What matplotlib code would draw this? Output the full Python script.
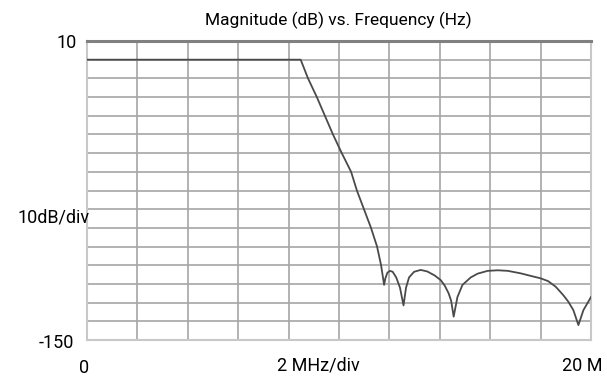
import matplotlib

matplotlib.use("Agg")
import matplotlib.pyplot as plt
import numpy as np

plt.rcParams["font.family"] = ["Roboto", "DejaVu Sans"]

# filter response
freq_mhz = [0.0, 8.48, 8.77, 9.12, 9.44, 9.76, 10.11, 10.48, 10.71, 10.99,
            11.27, 11.51, 11.67, 11.79, 11.84, 11.92, 12.02, 12.13, 12.27,
            12.42, 12.56, 12.66, 12.78, 12.98, 13.24, 13.5, 13.8, 14.04,
            14.2, 14.35, 14.45, 14.55, 14.7, 14.9, 15.23, 15.5, 15.9, 16.3,
            16.7, 17.2, 17.7, 18.0, 18.3, 18.6, 18.9, 19.1, 19.3, 19.5,
            19.7, 20.0]
mag_db = [0.0, 0.0, -10, -20, -30, -40, -50, -60, -70, -80,
          -90, -100, -110, -120.5, -117, -114, -113, -113.5, -116.5,
          -122, -131.5, -122, -116.5, -113.5, -112.5, -113.3, -115.5, -118,
          -121, -125, -129, -137.5, -127, -120.5, -116.5, -114.5, -113, -112.7,
          -113, -114.3, -116, -117, -118.5, -121.5, -126, -129.5, -134, -142,
          -134, -127]

x_ticks = np.arange(0, 21, 2)
y_ticks = np.arange(-150, 11, 10)

fig = plt.figure(figsize=(6.07, 3.83), dpi=100)
ax = fig.add_axes([87 / 607, 1 - 340 / 383, (591 - 87) / 607, (340 - 41) / 383])

ax.plot(freq_mhz, mag_db, color="#4a4a4a", lw=1.3, zorder=3)

ax.set_xlim(0, 20)
ax.set_ylim(-150, 10)
ax.set_xticks(x_ticks)
ax.set_yticks(y_ticks)
ax.tick_params(length=0, labelbottom=False, labelleft=False)
ax.grid(True, color="#a6a6a6", lw=1.2)
for side in ("left", "right", "bottom"):
    ax.spines[side].set_color("#c8c8c8")
    ax.spines[side].set_linewidth(1.5)
ax.spines["top"].set_color("#808080")
ax.spines["top"].set_linewidth(2.2)

fs = 13
fig.text(338 / 607, 1 - 20 / 383, "Magnitude (dB) vs. Frequency (Hz)",
         ha="center", va="center", fontsize=12.5)
fig.text(77 / 607, 1 - 43 / 383, "10", ha="right", va="center", fontsize=fs)
fig.text(74 / 607, 1 - 343 / 383, "-150", ha="right", va="center", fontsize=fs)
fig.text(54 / 607, 1 - 217 / 383, "10dB/div", ha="center", va="center", fontsize=fs)
fig.text(84 / 607, 1 - 368 / 383, "0", ha="center", va="center", fontsize=fs)
fig.text(318 / 607, 1 - 366 / 383, "2 MHz/div", ha="center", va="center", fontsize=fs)
fig.text(602 / 607, 1 - 366 / 383, "20 M", ha="right", va="center", fontsize=fs)

fig.savefig("out.png", dpi=100)
